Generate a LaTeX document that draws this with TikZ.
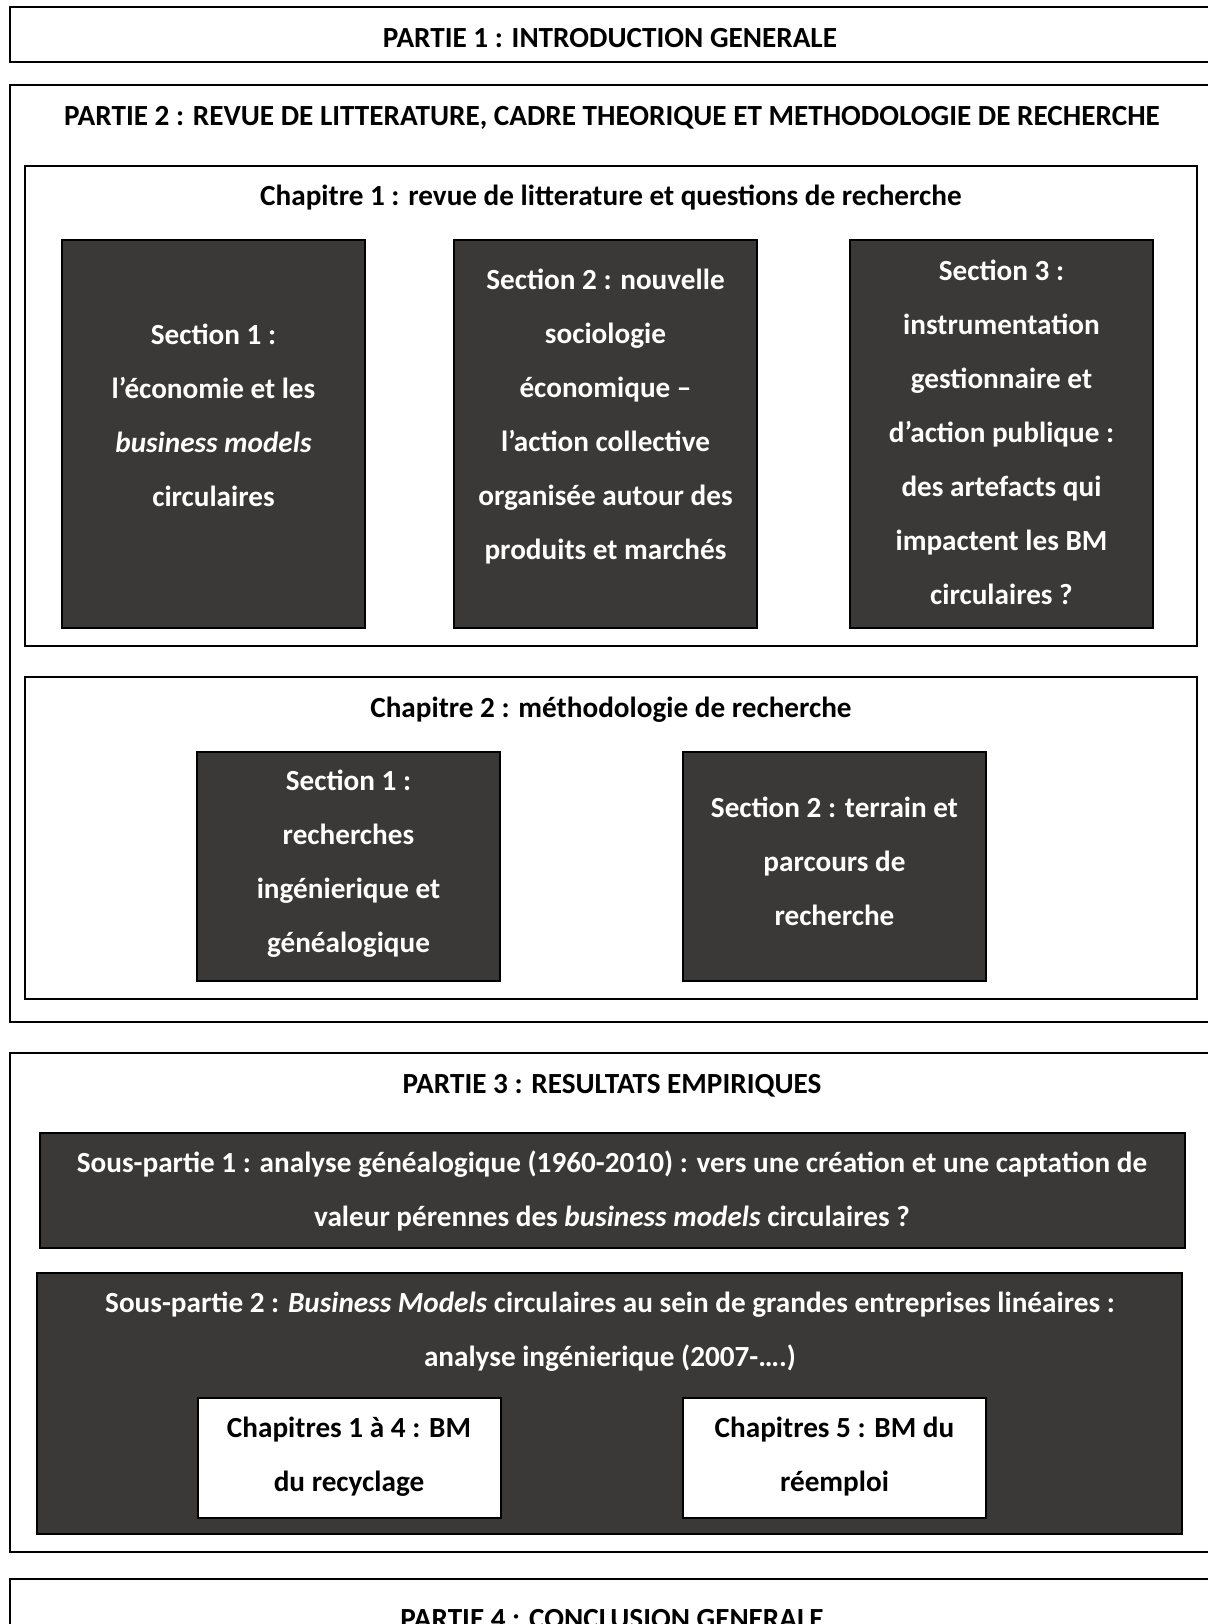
\documentclass[tikz,border=0pt]{standalone}
\usepackage{fontspec}
\setmainfont{Carlito}
\definecolor{boxgrey}{RGB}{58,57,56}

\begin{document}
\begin{tikzpicture}[x=0.5pt,y=-0.5pt,
  partbox/.style={draw,line width=1.1pt,fill=white},
  darkbox/.style={draw,line width=1.1pt,fill=boxgrey},
  titletext/.style={font=\bfseries\fontsize{14.6}{27}\selectfont,align=center},
  darktext/.style={titletext,text=white}]
\path[use as bounding box] (0,0) rectangle (1208,1624);
\clip (0,0) rectangle (1208,1624);
\fill[white] (0,0) rectangle (1208,1624);
% parties
\draw[partbox] (10,7) rectangle (1216,62);
\draw[partbox] (10,85) rectangle (1216,1022);
\draw[partbox] (10,1053) rectangle (1216,1552);
\draw[partbox] (10,1579) rectangle (1216,1660);
% chapitres 1 et 2
\draw[partbox] (25,166) rectangle (1197,646);
\foreach \x in {62,454,850}
  \draw[darkbox] (\x,240) rectangle ++(303,388);
\draw[partbox] (25,677) rectangle (1197,999);
\foreach \x in {197,683}
  \draw[darkbox] (\x,752) rectangle ++(303,229);
% sous-parties
\draw[darkbox] (40,1133) rectangle (1185,1248);
\draw[darkbox] (37,1273) rectangle (1182,1534);
\foreach \x in {198,683}
  \draw[partbox] (\x,1398) rectangle ++(303,120);

\node[titletext] (partI) at (610,38) {PARTIE 1 : INTRODUCTION GENERALE};
\node[titletext] (partII) at (612,118) {PARTIE 2 : REVUE DE LITTERATURE, CADRE THEORIQUE ET METHODOLOGIE DE RECHERCHE};
\node[titletext] (chapI) at (611,198) {Chapitre 1 : revue de litterature et questions de recherche};
\node[darktext] (secIa) at (213.5,415) {Section 1 :\\ l’économie et les\\ \textit{business models}\\ circulaires};
\node[darktext] (secIb) at (605.5,417) {Section 2 : nouvelle\\ sociologie\\ économique –\\ l’action collective\\ organisée autour des\\ produits et marchés};
\node[darktext] (secIc) at (1001.5,432) {Section 3 :\\ instrumentation\\ gestionnaire et\\ d’action publique :\\ des artefacts qui\\ impactent les BM\\ circulaires ?};
\node[titletext] (chapII) at (611,710) {Chapitre 2 : méthodologie de recherche};
\node[darktext] (secIIa) at (348.5,864) {Section 1 :\\ recherches\\ ingénierique et\\ généalogique};
\node[darktext] (secIIb) at (834.5,861) {Section 2 : terrain et\\ parcours de\\ recherche};
\node[titletext] (partIII) at (612,1086) {PARTIE 3 : RESULTATS EMPIRIQUES};
\node[darktext] (sousI) at (612,1191) {Sous-partie 1 : analyse généalogique (1960-2010) : vers une création et une captation de\\ valeur pérennes des \textit{business models} circulaires ?};
\node[darktext] (sousII) at (610,1332) {Sous-partie 2 : \textit{Business Models} circulaires au sein de grandes entreprises linéaires :\\ analyse ingénierique (2007-….)};
\node[titletext] (chapA) at (349,1457) {Chapitres 1 à 4 : BM\\ du recyclage};
\node[titletext] (chapB) at (834.5,1457) {Chapitres 5 : BM du\\ réemploi};
\node[titletext] (partIV) at (612,1619) {PARTIE 4 : CONCLUSION GENERALE};
\end{tikzpicture}
\end{document}
